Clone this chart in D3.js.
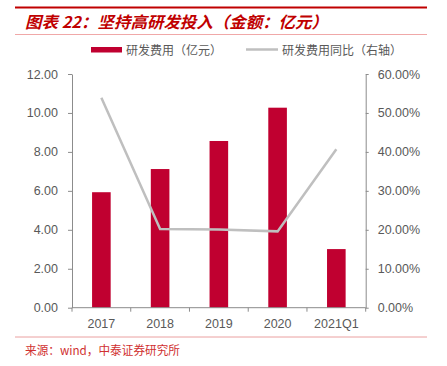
<!DOCTYPE html>
<html><head><meta charset="utf-8">
<script src="https://cdn.jsdelivr.net/npm/d3@7"></script>
<style>body{margin:0;background:#fff;}svg{display:block;}</style>
</head><body>
<svg id="c" width="447" height="366"></svg>
<script>
const categories = ["2017","2018","2019","2020","2021Q1"];
const rdExpense = [5.93, 7.12, 8.56, 10.27, 3.01];
const rdGrowth = [0.539, 0.202, 0.201, 0.196, 0.407];
const leftTicks = [0,2,4,6,8,10,12];
const rightTicks = [0,0.1,0.2,0.3,0.4,0.5,0.6];
const titleText = "图表 22：坚持高研发投入（金额：亿元）";
const legendBar = "研发费用（亿元）";
const legendLine = "研发费用同比（右轴）";
const sourceText = "来源：wind，中泰证券研究所";

const svg = d3.select("#c");
const red = "#c00000", barColor = "#c00030", lineColor = "#bfbfbf", axisColor = "#8c8c8c", txt = "#595959";
const numFont = "'Liberation Sans', Arial, sans-serif";
const cjk = "'Noto Sans CJK SC', sans-serif";

// header
svg.append("line").attr("x1",15).attr("x2",427).attr("y1",7.5).attr("y2",7.5).attr("stroke",red).attr("stroke-width",2);
svg.append("text").attr("x",25).attr("y",28).attr("fill",red).attr("font-family",cjk).attr("font-weight","bold")
  .attr("font-style","italic").attr("font-size",16).attr("textLength",303).attr("lengthAdjust","spacingAndGlyphs").text(titleText);
svg.append("line").attr("x1",15).attr("x2",427).attr("y1",34.5).attr("y2",34.5).attr("stroke","#f0a8a8").attr("stroke-width",1);

// legend
svg.append("rect").attr("x",91).attr("y",47).attr("width",31).attr("height",5.5).attr("fill",barColor);
svg.append("text").attr("x",126).attr("y",54.5).attr("fill",txt).attr("font-family",cjk).attr("font-size",12).text(legendBar);
svg.append("line").attr("x1",246).attr("x2",278).attr("y1",49.5).attr("y2",49.5).attr("stroke",lineColor).attr("stroke-width",2.5);
svg.append("text").attr("x",282).attr("y",54.5).attr("fill",txt).attr("font-family",cjk).attr("font-size",12).text(legendLine);

// scales
const x0 = 72, x1 = 365.7, yTop = 74, yBot = 307.7;
const x = d3.scaleBand().domain(categories).range([x0, x1]).paddingInner(0.68).paddingOuter(0.34);
const xPt = d3.scaleBand().domain(categories).range([x0, x1]);
const yL = d3.scaleLinear().domain([0,12]).range([yBot, yTop]);
const yR = d3.scaleLinear().domain([0,0.6]).range([yBot, yTop]);

// bars
svg.append("g").selectAll("rect").data(categories).join("rect")
  .attr("x", d => xPt(d) + xPt.bandwidth()/2 - 9.3)
  .attr("width", 18.6)
  .attr("y", (d,i) => yL(rdExpense[i]))
  .attr("height", (d,i) => yBot - yL(rdExpense[i]))
  .attr("fill", barColor);

// line
const line = d3.line().x((d,i) => xPt(categories[i]) + xPt.bandwidth()/2).y(d => yR(d));
svg.append("path").datum(rdGrowth).attr("d", line).attr("fill","none").attr("stroke",lineColor).attr("stroke-width",2.5);

// axes
function styleAxis(g){
  g.selectAll(".domain").attr("stroke",axisColor);
  g.selectAll(".tick line").attr("stroke",axisColor);
  g.selectAll("text").attr("fill",txt).attr("font-family",numFont).attr("font-size",12.5);
}
const gL = svg.append("g").attr("transform",`translate(${x0},0)`)
  .call(d3.axisLeft(yL).tickValues(leftTicks).tickFormat(d3.format(".2f")).tickSizeInner(4).tickSizeOuter(0).tickPadding(10));
styleAxis(gL);
const gR = svg.append("g").attr("transform",`translate(${x1},0)`)
  .call(d3.axisRight(yR).tickValues(rightTicks).tickFormat(d3.format(".2%")).tickSizeInner(3).tickSizeOuter(0).tickPadding(9));
styleAxis(gR);
const xAxis = d3.axisBottom(xPt).tickSize(0).tickPadding(11);
const gX = svg.append("g").attr("transform",`translate(0,${yBot})`).call(xAxis);
styleAxis(gX);
gX.selectAll(".domain").attr("d", `M${x0},0H${x1}`);
// category boundary ticks
const bounds = categories.map(c => xPt(c)).concat([x1]);
gX.selectAll(".bt").data(bounds).join("line").attr("class","bt")
  .attr("x1", d=>d).attr("x2", d=>d).attr("y1",0).attr("y2",4).attr("stroke",axisColor);

// footer
svg.append("line").attr("x1",15).attr("x2",427).attr("y1",337).attr("y2",337).attr("stroke","#eaa0a0").attr("stroke-width",1);
svg.append("text").attr("x",25).attr("y",355).attr("fill","#d03030").attr("font-family","'Noto Sans CJK SC', monospace").attr("font-size",12)
  .attr("textLength",155).attr("lengthAdjust","spacingAndGlyphs").text(sourceText);
</script>
</body></html>
